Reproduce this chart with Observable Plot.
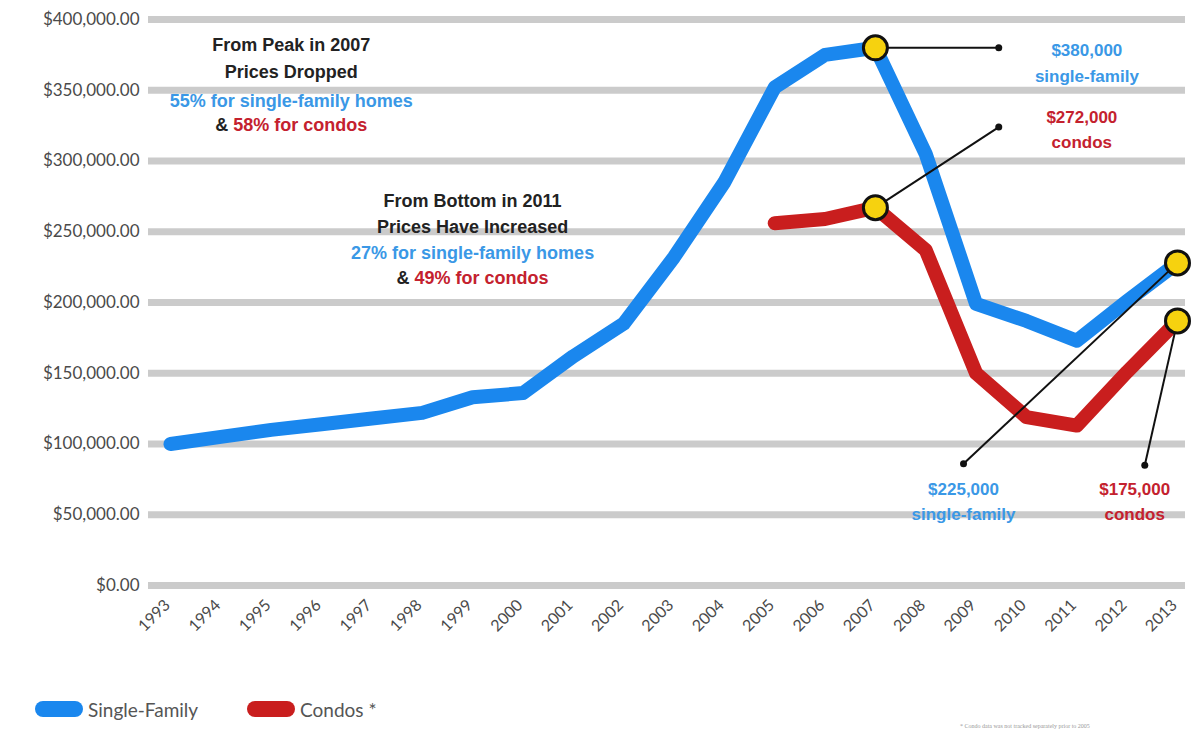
<!DOCTYPE html>
<html><head><meta charset="utf-8">
<script src="https://cdn.jsdelivr.net/npm/d3@7"></script>
<script src="https://cdn.jsdelivr.net/npm/@observablehq/plot@0.6"></script>
<style>
body{margin:0;background:#fff;}
#wrap{position:relative;width:1200px;height:735px;overflow:hidden;}
#legend{position:absolute;left:0;top:699px;height:20px;font-family:Lato,"Open Sans",sans-serif;font-size:19px;color:#555;}
.item{position:absolute;top:0;white-space:nowrap;display:flex;align-items:center;height:20px;}
.pill{display:inline-block;width:48px;height:16px;border-radius:8px;margin-right:5px;}
#foot{position:absolute;left:960px;top:723px;font-family:"Liberation Serif",serif;font-size:6px;color:#999;white-space:nowrap;}
</style></head><body>
<div id="wrap">
<div id="chart"></div>
<div id="legend"></div>
<div id="foot">* Condo data was not tracked separately prior to 2005</div>
</div>
<script>
// ---- data ----
const years = [1993,1994,1995,1996,1997,1998,1999,2000,2001,2002,2003,2004,2005,2006,2007,2008,2009,2010,2011,2012,2013];
const singleFamily = [100000,105000,110000,114000,118000,122000,133000,136000,162000,185000,232000,285000,352000,375000,380000,305000,199000,187000,173000,201000,228000];
const condoYears = [2005,2006,2007,2008,2009,2010,2011,2012,2013];
const condos = [256000,259000,267000,237000,150000,119000,113000,151000,187000];
const yTicks = [0,50000,100000,150000,200000,250000,300000,350000,400000];
const seriesNames = ["Single-Family","Condos *"];

const BLUE = "#1a87ee", RED = "#c91e1e";
const TBLUE = "#3a98e6", TRED = "#c4212e", TDARK = "#222";

const sf = years.map((y,i)=>({year:y, value:singleFamily[i]}));
const co = condoYears.map((y,i)=>({year:y, value:condos[i]}));
const valueAt = (arr, yr) => arr.find(d=>d.year===yr).value;

// callouts: highlighted point -> label anchor (data coordinates)
const callouts = [
  {year:2007, value:valueAt(sf,2007), lx:2009.45, ly:valueAt(sf,2007), tx:2011.2, ty:378000, l1:"$380,000", l2:"single-family", c:TBLUE},
  {year:2007, value:valueAt(co,2007), lx:2009.45, ly:324000, tx:2011.1, ty:331000, l1:"$272,000", l2:"condos", c:TRED},
  {year:2013, value:valueAt(sf,2013), lx:2008.75, ly:86000, tx:2008.75, ty:68000, l1:"$225,000", l2:"single-family", c:TBLUE},
  {year:2013, value:valueAt(co,2013), lx:2012.35, ly:85000, tx:2012.15, ty:68000, l1:"$175,000", l2:"condos", c:TRED}
];
const calloutText = callouts.flatMap(d=>[
  {x:d.tx, y:d.ty, t:d.l1, c:d.c},
  {x:d.tx, y:d.ty-18000, t:d.l2, c:d.c}
]);

const notes = [
  {x:1995.4, y:381500, t:"From Peak in 2007", c:TDARK},
  {x:1995.4, y:362500, t:"Prices Dropped", c:TDARK},
  {x:1995.4, y:342000, t:"55% for single-family homes", c:TBLUE},
  {x:1995.4, y:325500, t:"& 58% for condos", c:TRED},
  {x:1999.0, y:271500, t:"From Bottom in 2011", c:TDARK},
  {x:1999.0, y:253500, t:"Prices Have Increased", c:TDARK},
  {x:1999.0, y:235000, t:"27% for single-family homes", c:TBLUE},
  {x:1999.0, y:217500, t:"& 49% for condos", c:TRED}
];

const chart = Plot.plot({
  width: 1200,
  height: 680,
  marginTop: 19,
  marginBottom: 95,
  marginLeft: 170,
  marginRight: 23,
  style: {fontFamily: "Lato, 'Open Sans', sans-serif", color: "#4a4a4a", background: "#fff"},
  x: {domain: [1993, 2013]},
  y: {domain: [0, 400000]},
  marks: [
    Plot.ruleY(yTicks, {stroke: "#cbcbcb", strokeWidth: 7, insetLeft: -22, insetRight: -8}),
    Plot.axisY({ticks: yTicks, tickSize: 0, tickPadding: 31, fontSize: 17, tickFormat: d => "$" + d3.format(",.2f")(d), label: null}),
    Plot.axisX({ticks: years, tickSize: 0, tickPadding: 17, tickRotate: -45, fontSize: 16, dx: -3, tickFormat: d => String(d), label: null}),
    Plot.line(sf, {x: "year", y: "value", stroke: BLUE, strokeWidth: 14, strokeLinejoin: "round", strokeLinecap: "round"}),
    Plot.line(co, {x: "year", y: "value", stroke: RED, strokeWidth: 14, strokeLinejoin: "round", strokeLinecap: "round"}),
    Plot.link(callouts, {x1: "year", y1: "value", x2: "lx", y2: "ly", stroke: "#111", strokeWidth: 2}),
    Plot.dot(callouts, {x: "lx", y: "ly", r: 3.5, fill: "#111"}),
    Plot.dot(callouts, {x: "year", y: "value", r: 12, fill: "#f6d20f", stroke: "#111", strokeWidth: 3}),
    Plot.text(calloutText, {x: "x", y: "y", text: "t", fill: "c", fontSize: 17, fontWeight: "bold", fontFamily: "'Liberation Sans', Arial, sans-serif"}),
    Plot.text(notes, {x: "x", y: "y", text: "t", fill: "c", fontSize: 18, fontWeight: "bold", fontFamily: "'Liberation Sans', Arial, sans-serif"})
  ]
});
document.getElementById("chart").appendChild(chart);

// two-colour lines: "& " in dark, remainder in red
chart.querySelectorAll("text").forEach(t => {
  const s = t.textContent;
  if (s.startsWith("& ")) {
    t.textContent = "";
    const ns = "http://www.w3.org/2000/svg";
    const a = document.createElementNS(ns, "tspan"); a.setAttribute("fill", TDARK); a.textContent = "& ";
    const b = document.createElementNS(ns, "tspan"); b.setAttribute("fill", TRED); b.textContent = s.slice(2);
    t.appendChild(a); t.appendChild(b);
  }
});

// legend
const legend = document.getElementById("legend");
const lx = [35, 247];
seriesNames.forEach((n, i) => {
  const it = document.createElement("div");
  it.className = "item";
  it.style.left = lx[i] + "px";
  it.innerHTML = `<span class="pill" style="background:${i ? RED : BLUE}"></span><span>${n}</span>`;
  legend.appendChild(it);
});
</script>
</body></html>
